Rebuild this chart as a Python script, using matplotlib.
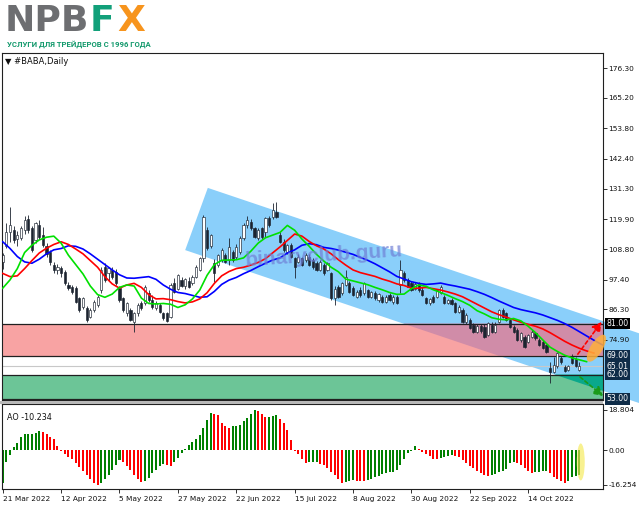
import matplotlib
matplotlib.use("Agg")
import matplotlib.pyplot as plt
from matplotlib import transforms
from matplotlib.patches import Polygon, Ellipse, Rectangle

plt.rcParams["font.family"] = "DejaVu Sans"

W, H = 639, 508


# * Data (one value per daily bar, 21 Mar 2022 .. 3 Nov 2022)
date_labels = ["21 Mar 2022", "12 Apr 2022", "5 May 2022", "27 May 2022", "22 Jun 2022",
               "15 Jul 2022", "8 Aug 2022", "30 Aug 2022", "22 Sep 2022", "14 Oct 2022"]

opens = [104.0, 110.0, 115.0, 115.9, 112.5, 113.0, 116.0, 119.9, 116.5, 112.2,
         117.8, 114.0, 110.0, 107.8, 102.8, 101.0, 101.6, 100.4, 95.4, 94.8,
         94.2, 90.4, 87.3, 86.7, 83.6, 86.1, 87.9, 93.5, 102.2, 99.7,
         101.0, 100.4, 94.2, 90.4, 84.8, 86.1, 81.7, 84.8, 88.6, 88.6,
         92.3, 89.8, 86.7, 88.0, 84.8, 84.8, 83.6, 96.0, 94.0, 97.3,
         95.0, 97.0, 96.0, 98.5, 101.0, 105.3, 116.0, 110.0, 103.5, 102.9,
         104.7, 106.6, 104.7, 107.8, 106.0, 107.8, 112.8, 117.8, 119.0, 116.5,
         112.8, 116.5, 115.3, 120.2, 120.9, 122.7, 114.0, 111.6, 107.8, 110.3,
         105.3, 104.1, 105.3, 104.7, 106.0, 104.7, 103.5, 101.0, 102.9, 101.0,
         99.7, 90.5, 94.8, 92.3, 95.4, 96.0, 94.2, 91.0, 93.5, 92.3,
         93.5, 91.0, 92.3, 89.8, 91.0, 89.2, 91.5, 89.2, 91.0, 95.4,
         99.7, 97.3, 96.0, 94.0, 95.8, 93.5, 90.5, 88.6, 91.0, 91.0,
         92.3, 91.0, 88.6, 89.8, 88.6, 85.5, 86.1, 81.7, 82.3, 80.5,
         78.0, 80.0, 79.9, 76.8, 80.5, 78.0, 81.7, 86.1, 84.8, 82.3,
         79.9, 78.6, 74.9, 76.1, 74.3, 76.1, 77.4, 74.9, 74.3, 73.0,
         64.5, 63.1, 65.0, 68.0, 64.8, 63.7, 68.4, 67.9, 63.7]
highs = [107.5, 118.4, 124.6, 117.5, 115.5, 117.5, 121.0, 121.5, 117.5, 119.0,
         119.5, 117.2, 111.0, 108.5, 104.0, 103.2, 102.5, 101.0, 96.5, 95.5,
         95.0, 91.0, 91.0, 87.5, 86.8, 89.8, 91.5, 102.2, 103.5, 102.0,
         102.0, 101.5, 95.0, 91.0, 89.0, 86.8, 85.5, 88.5, 89.5, 95.4,
         93.5, 91.5, 89.5, 88.8, 85.5, 85.5, 96.0, 98.0, 99.5, 98.5,
         98.0, 98.2, 99.0, 102.8, 105.8, 121.5, 117.0, 114.5, 105.0, 107.0,
         109.0, 107.5, 112.8, 108.5, 110.5, 113.5, 118.5, 121.0, 120.0, 117.2,
         116.8, 117.0, 120.9, 121.0, 125.8, 126.5, 115.0, 112.5, 110.8, 111.0,
         106.0, 106.8, 106.0, 107.5, 106.8, 105.5, 104.5, 104.8, 103.5, 104.0,
         100.4, 95.0, 95.5, 96.5, 101.0, 97.0, 95.0, 93.5, 94.8, 96.5,
         94.0, 93.2, 93.0, 92.5, 91.8, 91.5, 92.5, 91.5, 91.5, 104.7,
         100.5, 98.0, 96.8, 96.5, 96.5, 94.5, 91.0, 90.5, 91.8, 93.8,
         95.5, 91.5, 90.3, 90.5, 89.2, 87.8, 86.8, 84.8, 83.0, 81.2,
         80.8, 80.8, 81.0, 81.5, 81.6, 81.5, 86.5, 86.8, 85.5, 83.0,
         80.5, 79.2, 77.8, 76.8, 77.2, 78.5, 78.0, 75.5, 75.0, 73.5,
         66.5, 68.7, 70.5, 68.8, 65.5, 65.5, 69.5, 68.5, 66.5]
lows = [101.5, 109.0, 111.5, 111.0, 110.0, 112.0, 114.5, 114.8, 107.8, 111.0,
        112.5, 109.5, 106.0, 103.0, 100.0, 99.5, 98.5, 95.5, 93.5, 92.0,
        88.5, 85.5, 86.5, 81.7, 83.0, 85.5, 87.0, 92.5, 96.5, 97.0,
        97.5, 95.5, 89.0, 85.5, 84.0, 81.8, 78.0, 84.0, 86.0, 88.0,
        89.0, 86.5, 86.0, 85.0, 82.5, 81.5, 83.0, 92.5, 93.5, 94.5,
        94.0, 94.2, 95.5, 98.0, 100.5, 104.0, 108.5, 109.0, 96.6, 102.0,
        104.0, 103.5, 102.8, 104.0, 105.0, 107.0, 112.0, 116.8, 115.8, 112.8,
        112.0, 112.5, 113.4, 117.0, 120.0, 120.2, 111.0, 107.8, 107.0, 105.5,
        97.9, 103.5, 102.5, 104.0, 102.5, 101.5, 100.5, 100.5, 99.0, 100.5,
        89.8, 88.0, 90.5, 91.5, 95.0, 92.5, 91.2, 90.5, 91.0, 91.8,
        90.5, 90.5, 89.8, 89.2, 88.8, 88.8, 89.5, 88.3, 88.2, 92.3,
        96.5, 94.5, 93.0, 93.5, 92.8, 91.2, 88.2, 88.0, 88.8, 90.5,
        92.0, 88.2, 88.2, 88.0, 85.0, 85.0, 81.2, 81.0, 78.8, 77.5,
        77.5, 77.6, 75.5, 76.2, 77.5, 77.5, 81.2, 83.0, 81.8, 79.5,
        77.5, 74.5, 74.3, 72.0, 73.8, 75.5, 75.0, 72.5, 71.5, 70.0,
        58.7, 62.5, 64.5, 66.0, 62.8, 63.2, 65.8, 64.8, 63.2]
closes = [106.5, 115.3, 117.8, 112.2, 114.0, 116.5, 119.6, 115.9, 108.4, 118.4,
          113.4, 110.3, 107.0, 104.1, 101.0, 102.2, 99.7, 96.0, 94.2, 92.9,
          89.2, 86.1, 90.4, 82.3, 86.1, 89.2, 91.0, 101.0, 97.3, 101.6,
          98.5, 96.0, 89.8, 86.1, 88.6, 82.3, 84.8, 88.0, 86.7, 94.8,
          89.8, 87.3, 88.6, 85.5, 83.0, 81.8, 95.4, 92.9, 99.0, 95.0,
          97.5, 94.8, 98.5, 102.2, 105.3, 120.9, 109.1, 114.0, 99.7, 106.6,
          108.4, 104.1, 109.7, 104.7, 109.7, 112.8, 117.8, 119.6, 116.5, 113.4,
          115.9, 113.4, 120.2, 117.8, 123.4, 120.9, 111.6, 108.4, 110.3, 106.0,
          102.2, 106.0, 102.9, 106.6, 102.9, 102.2, 101.0, 104.1, 99.7, 103.5,
          90.4, 93.8, 91.0, 96.0, 98.5, 92.9, 91.7, 92.9, 91.7, 96.0,
          91.0, 92.9, 90.4, 92.0, 89.2, 91.0, 89.8, 91.0, 88.6, 101.0,
          97.3, 94.8, 93.5, 95.8, 93.5, 91.7, 88.6, 90.2, 89.2, 93.5,
          94.8, 88.6, 89.8, 88.4, 85.5, 87.3, 81.7, 84.2, 79.2, 78.0,
          80.0, 78.2, 76.1, 81.1, 78.0, 80.5, 86.1, 83.6, 82.3, 79.9,
          78.0, 74.9, 77.4, 72.4, 76.8, 78.0, 75.5, 73.0, 71.8, 70.5,
          63.0, 65.6, 69.9, 66.5, 63.2, 65.0, 66.2, 65.0, 65.01]

# Alligator lines (jaw blue, teeth red, lips green), read every second bar
jaw_x = list(range(0, 167, 2))
jaw_y = [111.5, 109.0, 106.0, 104.0, 103.5, 105.0, 107.0, 108.5, 109.0, 110.0,
         109.8, 108.8, 107.0, 105.0, 103.0, 101.0, 99.2, 98.0, 97.9, 98.2,
         98.5, 97.5, 95.4, 93.8, 92.6, 92.2, 91.5, 90.8, 91.0, 93.0,
         95.6, 97.2, 98.2, 99.6, 100.8, 102.2, 103.5, 104.7, 105.5, 107.3,
         108.5, 110.2, 110.8, 110.4, 109.4, 109.0, 108.4, 107.6, 106.8, 105.7,
         104.6, 103.3, 101.8, 100.3, 98.6, 97.6, 96.6, 96.0, 95.6, 95.8,
         96.1, 95.5, 95.0, 94.4, 93.8, 92.9, 91.9, 90.7, 89.4, 88.2,
         87.0, 86.2, 85.6, 85.0, 84.2, 83.2, 82.2, 81.0, 79.6, 78.0,
         76.4, 74.8, 73.3, 72.0]
teeth_x = list(range(0, 163, 2))
teeth_y = [99.7, 98.5, 98.8, 101.5, 104.5, 107.3, 109.1, 110.5, 111.5, 110.5,
           108.8, 107.0, 104.5, 102.0, 98.5, 95.8, 94.2, 95.4, 96.0, 94.5,
           91.8, 90.2, 90.3, 89.9, 89.2, 88.7, 89.1, 90.2, 92.5, 96.0,
           98.8, 100.4, 101.5, 102.0, 102.8, 103.8, 105.2, 107.4, 109.6, 112.0,
           114.4, 113.6, 111.6, 110.0, 108.8, 107.0, 104.8, 102.8, 101.0, 100.0,
           99.3, 98.6, 97.6, 96.8, 95.8, 95.2, 94.2, 94.2, 94.5, 94.0,
           93.5, 92.8, 92.0, 91.0, 89.6, 88.2, 86.8, 85.4, 84.3, 83.4,
           82.4, 81.5, 80.7, 80.0, 79.0, 77.6, 76.0, 74.4, 73.0, 71.8,
           70.8, 70.0]
lips_x = list(range(0, 161, 2))
lips_y = [94.2, 97.3, 101.5, 107.5, 110.2, 112.2, 113.2, 113.6, 111.0, 106.5,
          103.0, 99.5, 95.0, 91.8, 90.8, 92.0, 94.5, 95.4, 95.0, 90.5,
          88.5, 88.3, 88.5, 88.2, 87.0, 88.0, 90.2, 93.5, 99.0, 103.0,
          104.6, 104.7, 104.8, 105.5, 108.0, 111.0, 113.0, 114.0, 115.0, 117.6,
          115.8, 112.5, 109.8, 106.8, 104.3, 102.0, 100.3, 97.6, 96.9, 96.2,
          95.5, 94.5, 93.6, 92.6, 91.9, 92.0, 94.0, 95.4, 94.9, 93.6,
          92.6, 91.5, 90.3, 89.2, 87.8, 85.8, 84.6, 83.2, 82.6, 82.4,
          82.9, 82.0, 80.0, 77.6, 74.9, 72.2, 70.6, 69.2, 68.2, 67.5,
          66.8]

# Awesome Oscillator, one value per bar
ao = [-15.4, -5.5, -2.3, 1.6, 3.4, 6.3, 7.4, 7.5, 7.6, 8.1,
      9.1, 8.5, 7.4, 6.3, 5.0, 1.9, -0.6, -1.9, -3.1, -4.4,
      -5.9, -7.8, -9.7, -11.8, -13.8, -15.7, -16.25, -15.6, -13.8, -11.8,
      -9.4, -7.1, -4.7, -5.6, -7.5, -9.4, -11.5, -13.8, -14.9, -14.4,
      -13.0, -11.0, -9.4, -7.4, -6.6, -7.0, -7.5, -5.5, -3.6, -1.5,
      0.5, 2.5, 3.9, 5.2, 6.9, 10.5, 14.0, 17.3, 17.0, 16.5,
      12.9, 11.3, 10.2, 11.1, 11.5, 11.9, 13.5, 15.2, 16.9, 18.8,
      18.5, 16.9, 15.4, 15.5, 15.8, 16.5, 14.7, 12.5, 9.4, 4.7,
      -0.4, -2.0, -4.0, -5.9, -5.8, -5.6, -5.5, -6.5, -7.0, -8.6,
      -10.2, -11.8, -13.6, -15.4, -15.0, -14.6, -14.3, -14.4, -14.6, -14.7,
      -14.2, -13.6, -12.9, -12.2, -11.4, -10.8, -10.5, -10.2, -9.5, -7.2,
      -4.0, -1.5, -0.5, 1.8, 0.3, -0.9, -1.9, -2.8, -4.1, -4.4,
      -3.9, -3.3, -2.7, -2.2, -2.6, -3.5, -4.7, -6.0, -7.4, -8.6,
      -9.7, -10.8, -11.6, -12.2, -11.6, -11.3, -10.5, -9.7, -8.8, -6.0,
      -5.5, -6.0, -7.2, -8.5, -9.7, -10.7, -10.5, -10.2, -10.0, -9.9,
      -11.0, -12.5, -13.6, -14.6, -15.6, -14.4, -12.9, -12.2, -11.8]

price_ticks = [176.30, 165.20, 153.80, 142.40, 131.30, 119.90, 108.80, 97.40, 86.30, 74.90]
ao_ticks = [18.804, 0.0, -16.254]

# levels drawn on the chart
red_zone = (69.0, 81.0)
green_zone = (53.0, 62.0)
last_price = 65.01

# trend channel corners (bar, price)
chan_bars = [56.2, 180.0, 180.0, 50.0]
chan_prices = [131.6, 74.8, 48.8, 108.4]


def clip_band(pts, lo, hi):
    # cut a polygon to the horizontal band lo..hi (Sutherland-Hodgman)
    def cut(poly, inside, y):
        out = []
        for k in range(len(poly)):
            cur, prev = poly[k], poly[k - 1]
            if inside(cur) != inside(prev):
                t = (y - prev[1]) / (cur[1] - prev[1])
                out.append((prev[0] + (cur[0] - prev[0]) * t, y))
            if inside(cur):
                out.append(cur)
        return out
    pts = cut(pts, lambda p: p[1] >= lo, lo)
    pts = cut(pts, lambda p: p[1] <= hi, hi)
    return pts


# * Figure
fig = plt.figure(figsize=(W / 100, H / 100), dpi=100)
ax = fig.add_axes([2 / W, 1 - 400 / H, 601 / W, 347 / H])
ao_ax = fig.add_axes([2 / W, 1 - 489 / H, 601 / W, 85 / H])

n = len(closes)
idx = list(range(n))

# channel + zones
chan_xy = list(zip(chan_bars, chan_prices))
ax.add_patch(Polygon(chan_xy, closed=True, facecolor="#8acffa", edgecolor="none",
                     zorder=0.3, clip_on=False))

ax.axhspan(*red_zone, facecolor="#f8a3a3", edgecolor="none", zorder=0.4)
ax.axhspan(*green_zone, facecolor="#6cc597", edgecolor="none", zorder=0.4)
ax.add_patch(Polygon(clip_band(chan_xy, *red_zone), closed=True, facecolor="#d08ca8",
                     edgecolor="none", zorder=0.5))
ax.add_patch(Polygon(clip_band(chan_xy, *green_zone), closed=True, facecolor="#0aa88b",
                     edgecolor="none", zorder=0.5))

for lvl in list(red_zone) + list(green_zone):
    ax.axhline(lvl, color="#202020", lw=0.9, zorder=0.6)
ax.axhline(last_price, color="#c8c8c8", lw=0.8, zorder=0.6)

# candles
bull = [c >= o for o, c in zip(opens, closes)]
bottoms = [min(o, c) for o, c in zip(opens, closes)]
heights = [max(abs(c - o), 0.25) for o, c in zip(opens, closes)]
ax.vlines(idx, lows, highs, color="#1c2430", lw=0.6, zorder=2)
ax.bar(idx, heights, bottom=bottoms, width=0.6,
       color=["white" if b else "#1c2430" for b in bull],
       edgecolor="#1c2430", linewidth=0.45, zorder=2.1)

# alligator
ax.plot(jaw_x, jaw_y, color="#0000ff", lw=1.2, zorder=3)
ax.plot(teeth_x, teeth_y, color="#ff0000", lw=1.2, zorder=3.1)
ax.plot(lips_x, lips_y, color="#00e000", lw=1.2, zorder=3.2)

# forecast arrows and highlight
ax.annotate("", xy=(164.1, 81.6), xytext=(157.6, 69.6), annotation_clip=False,
            arrowprops=dict(arrowstyle="-|>,head_length=0.55,head_width=0.3", color="#ff0000",
                            lw=1.2, linestyle=(0, (2.2, 1.6)), shrinkA=0, shrinkB=0),
            zorder=5)
ax.annotate("", xy=(164.5, 54.0), xytext=(158.2, 61.1), annotation_clip=False,
            arrowprops=dict(arrowstyle="-|>,head_length=0.55,head_width=0.3", color="#1a9a1a",
                            lw=1.2, linestyle=(0, (2.2, 1.6)), shrinkA=0, shrinkB=0),
            zorder=5)
ell_tr = fig.dpi_scale_trans + transforms.ScaledTranslation(162.7, 71.8, ax.transData)
ax.add_patch(Ellipse((0, 0), 0.12, 0.31, angle=-32, transform=ell_tr,
                     facecolor="#ffb03b", edgecolor="none", alpha=0.85, zorder=4.5, clip_on=False))

# watermark
ax.text(88.0, 106.2, "binaryclub.guru", family="Liberation Sans", fontweight="bold",
        fontsize=15, color="#6f7fd6", alpha=0.7, rotation=3.6,
        ha="center", va="center", zorder=6)

ax.set_xlim(-0.2, 164.5)
ax.set_ylim(52.5, 181.9)
ax.set_xticks([])
ax.yaxis.tick_right()
ax.set_yticks(price_ticks)
ax.set_yticklabels([f"{v:.2f}" for v in price_ticks])
ax.tick_params(axis="y", direction="out", length=3, width=0.6, pad=1,
               labelsize=5.3, colors="#101010")

# price tags at the right
ytr = transforms.blended_transform_factory(ax.transAxes, ax.transData)
tags = [(81.0, "#000000"), (69.0, "#0f2c48"), (65.01, "#0f2c48"), (62.0, "#0f2c48"), (53.0, "#0f2c48")]
for val, bg in tags:
    ax.text(1.006, val, f"{val:.2f}", transform=ytr, ha="left", va="center",
            fontsize=5.6, color="white", zorder=7, clip_on=False,
            bbox=dict(boxstyle="square,pad=0.18", facecolor=bg, edgecolor="none"))

for s in ax.spines.values():
    s.set_color("#202020")
    s.set_linewidth(0.8)

# * AO panel
ao_cols = ["#008000" if (i == 0 or ao[i] > ao[i - 1]) else "#ff0000" for i in idx]
ao_ax.bar(idx, ao, width=0.55, color=ao_cols, zorder=2)
ell_ao = fig.dpi_scale_trans + transforms.ScaledTranslation(158.4, -5.6, ao_ax.transData)
ao_ax.add_patch(Ellipse((0, 0), 0.08, 0.37, transform=ell_ao,
                        facecolor="#f5ea55", edgecolor="none", alpha=0.65, zorder=3))
ao_ax.text(0.008, 0.9, "AO -10.234", transform=ao_ax.transAxes, fontsize=5.8,
           va="top", ha="left", color="#101010")

ao_ax.set_xlim(-0.2, 164.5)
ao_ax.set_ylim(-18.3, 21.6)
ao_ax.yaxis.tick_right()
ao_ax.set_yticks(ao_ticks)
ao_ax.set_yticklabels(["18.804", "0.00", "-16.254"])
ao_ax.set_xticks(list(range(0, 16 * len(date_labels), 16)))
ao_ax.set_xticklabels(date_labels)
for lbl in ao_ax.get_xticklabels():
    lbl.set_horizontalalignment("left")
ao_ax.tick_params(axis="both", direction="out", length=3, width=0.6, pad=1,
                  labelsize=5.3, colors="#101010")
ao_ax.tick_params(axis="x", pad=2)
for s in ao_ax.spines.values():
    s.set_color("#202020")
    s.set_linewidth(0.8)

# separator between panels
fig.add_artist(Rectangle((0, 1 - 404 / H), 603 / W, 3 / H, transform=fig.transFigure,
                         facecolor="#b8b8b8", edgecolor="none"))

# * Header: logo + symbol
fig.text(5 / W, 1 - 21 / H, "NPB", fontsize=26, fontweight="bold", color="#6d6e71",
         va="center", ha="left")
fig.text(90 / W, 1 - 21 / H, "F", fontsize=26, fontweight="bold", color="#12a07a",
         va="center", ha="left")
fig.text(117 / W, 1 - 21 / H, "X", fontsize=26, fontweight="bold", color="#f7941d",
         va="center", ha="left")
fig.text(7 / W, 1 - 44 / H, "УСЛУГИ ДЛЯ ТРЕЙДЕРОВ С 1996 ГОДА", family="Roboto",
         fontsize=5.6, fontweight="bold", color="#13996c", va="center", ha="left")
fig.text(5 / W, 1 - 62 / H, "\u25bc #BABA,Daily", fontsize=6, color="#101010",
         va="center", ha="left")

fig.savefig("out.png", dpi=100, facecolor="white")
